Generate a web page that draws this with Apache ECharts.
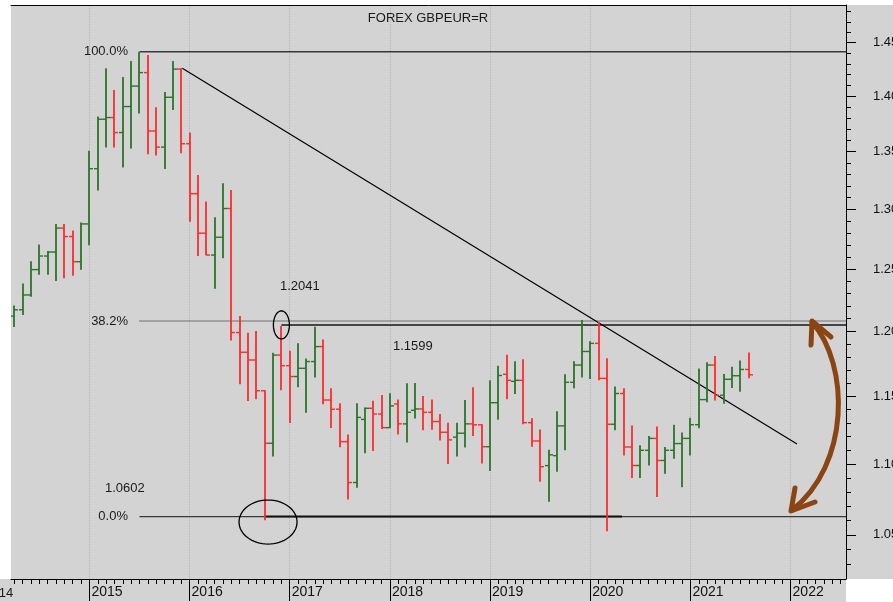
<!DOCTYPE html>
<html>
<head>
<meta charset="utf-8">
<title>FOREX GBPEUR=R</title>
<script src="https://cdn.jsdelivr.net/npm/echarts@6/dist/echarts.min.js"></script>
<style>
    html, body { margin: 0; padding: 0; background: #fff; }
    #chart { width: 893px; height: 602px; }
</style>
</head>
<body>
<div id="chart"></div>
<script>
    // monthly bars, Apr 2014 .. Aug 2021
    var months = [
        '2014-04','2014-05','2014-06','2014-07','2014-08','2014-09','2014-10','2014-11','2014-12',
        '2015-01','2015-02','2015-03','2015-04','2015-05','2015-06','2015-07','2015-08','2015-09','2015-10','2015-11','2015-12',
        '2016-01','2016-02','2016-03','2016-04','2016-05','2016-06','2016-07','2016-08','2016-09','2016-10','2016-11','2016-12',
        '2017-01','2017-02','2017-03','2017-04','2017-05','2017-06','2017-07','2017-08','2017-09','2017-10','2017-11','2017-12',
        '2018-01','2018-02','2018-03','2018-04','2018-05','2018-06','2018-07','2018-08','2018-09','2018-10','2018-11','2018-12',
        '2019-01','2019-02','2019-03','2019-04','2019-05','2019-06','2019-07','2019-08','2019-09','2019-10','2019-11','2019-12',
        '2020-01','2020-02','2020-03','2020-04','2020-05','2020-06','2020-07','2020-08','2020-09','2020-10','2020-11','2020-12',
        '2021-01','2021-02','2021-03','2021-04','2021-05','2021-06','2021-07','2021-08'
    ];
    var opens = [
        1.2120,1.2170,1.2289,1.2495,1.2607,1.2640,1.2840,1.2769,1.2560,
        1.2875,1.3350,1.3790,1.3805,1.3670,1.3905,1.4093,1.4218,1.3684,1.3540,1.3990,1.4251,
        1.3570,1.3133,1.2797,1.2615,1.2763,1.3006,1.1990,1.1836,1.1776,1.1541,1.1150,1.1814,
        1.1732,1.1649,1.1712,1.1764,1.1880,1.1471,1.1402,1.1162,1.0867,1.1326,1.1409,1.1366,
        1.1265,1.1441,1.1293,1.1394,1.1404,1.1379,1.1310,1.1231,1.1195,1.1224,1.1293,1.1286,
        1.1125,1.1451,1.1666,1.1612,1.1620,1.1302,1.1167,1.0988,1.1060,1.1278,1.1605,1.1737,
        1.1842,1.1905,1.1635,1.1290,1.1520,1.1123,1.0989,1.1099,1.1186,1.1025,1.1099,1.1148,
        1.1186,1.1287,1.1474,1.1737,1.1507,1.1628,1.1655,1.1703
    ];
    var highs = [
        1.2205,1.2382,1.2563,1.2703,1.2648,1.2875,1.2875,1.2820,1.2887,
        1.3508,1.3815,1.4259,1.4057,1.4178,1.4327,1.4414,1.4384,1.3899,1.4038,1.4327,1.4262,
        1.3670,1.3295,1.3066,1.2932,1.3224,1.3165,1.2121,1.1989,1.2003,1.1545,1.1833,1.2041,
        1.1847,1.1906,1.1787,1.2036,1.1936,1.1560,1.1447,1.1214,1.1447,1.1414,1.1466,1.1509,
        1.1522,1.1475,1.1597,1.1599,1.1501,1.1475,1.1366,1.1302,1.1302,1.1471,1.1568,1.1290,
        1.1620,1.1731,1.1817,1.1767,1.1781,1.1334,1.1252,1.1103,1.1386,1.1666,1.1767,1.2088,
        1.1922,1.2073,1.1790,1.1574,1.1560,1.1280,1.1136,1.1204,1.1274,1.1123,1.1287,1.1230,
        1.1338,1.1710,1.1758,1.1806,1.1669,1.1723,1.1772,1.1834
    ];
    var lows = [
        1.2034,1.2128,1.2274,1.2452,1.2452,1.2402,1.2424,1.2444,1.2493,
        1.2697,1.3160,1.3537,1.3537,1.3360,1.3527,1.3842,1.3476,1.3466,1.3347,1.3873,1.3485,
        1.2893,1.2607,1.2613,1.2340,1.2588,1.1927,1.1590,1.1463,1.1477,1.0602,1.1053,1.1545,
        1.1300,1.1567,1.1376,1.1641,1.1439,1.1262,1.1121,1.0747,1.0830,1.1078,1.1094,1.1255,
        1.1262,1.1214,1.1155,1.1333,1.1245,1.1250,1.1170,1.0999,1.1053,1.1120,1.1203,1.1004,
        1.0950,1.1323,1.1477,1.1517,1.1290,1.1125,1.0873,1.0731,1.0944,1.1100,1.1560,1.1641,
        1.1631,1.1620,1.0526,1.1245,1.1062,1.0899,1.0899,1.0989,1.0764,1.0929,1.1038,1.0834,
        1.1062,1.1261,1.1455,1.1468,1.1442,1.1561,1.1534,1.1635
    ];
    var closes = [
        1.2170,1.2289,1.2495,1.2607,1.2640,1.2840,1.2769,1.2560,1.2875,
        1.3350,1.3790,1.3805,1.3670,1.3905,1.4093,1.4218,1.3684,1.3540,1.3990,1.4251,1.3570,
        1.3133,1.2797,1.2615,1.2763,1.3006,1.1990,1.1836,1.1776,1.1541,1.1150,1.1814,1.1732,
        1.1649,1.1712,1.1764,1.1880,1.1471,1.1402,1.1162,1.0867,1.1341,1.1409,1.1366,1.1265,
        1.1427,1.1293,1.1379,1.1404,1.1379,1.1310,1.1231,1.1175,1.1224,1.1293,1.1286,1.1125,
        1.1451,1.1657,1.1620,1.1620,1.1302,1.1167,1.0980,1.1066,1.1278,1.1605,1.1737,1.1842,
        1.1905,1.1635,1.1290,1.1520,1.1123,1.0989,1.1099,1.1186,1.1025,1.1099,1.1148,1.1186,
        1.1287,1.1474,1.1737,1.1507,1.1628,1.1655,1.1703,1.1662
    ];

    // axes
    var years = [2015, 2016, 2017, 2018, 2019, 2020, 2021, 2022];
    var priceTicks = [1.05, 1.10, 1.15, 1.20, 1.25, 1.30, 1.35, 1.40, 1.45];
    var X_MIN = 2.607, X_MAX = 102.64;      // months since Jan 2014
    var Y_MIN = 1.02007, Y_MAX = 1.48625;   // log price scale

    // retracement levels and drawn lines
    var fibLabels = ['100.0%', '38.2%', '0.0%'];
    var fibValues = [1.4414, 1.2081, 1.0627];
    var fibFrom = '2015-07';
    var resistance = { from: '2016-12', value: 1.2050 };
    var support = { from: '2016-10', to: 75.8, value: 1.0627 };
    var trendLine = [[23.13, 1.4258], [96.77, 1.1145]];
    var notes = ['1.2041', '1.1599', '1.0602'];

    var FONT = '"Liberation Sans", Arial, sans-serif';
    var UP = '#2a752a', DOWN = '#ff2b2b';
    var GREY = '#d3d3d3';
    var LN = Math.log;

    function monthIndex(s) {
        var p = s.split('-');
        return (+p[0] - 2014) * 12 + (+p[1] - 1);
    }

    var yearTicks = years.map(function (y) { return (y - 2014) * 12; });
    var monthTicks = [];
    for (var m = 3; m <= 102; m++) monthTicks.push(m);
    var minorTicks = [];
    for (var k = 102; k <= 148; k++) minorTicks.push(LN(k / 100));

    var ohlc = months.map(function (s, i) {
        return [monthIndex(s), LN(opens[i]), LN(highs[i]), LN(lows[i]), LN(closes[i])];
    });

    function renderOhlc(params, api) {
        var m = api.value(0);
        var o = api.coord([m, api.value(1)]);
        var h = api.coord([m, api.value(2)]);
        var l = api.coord([m, api.value(3)]);
        var c = api.coord([m, api.value(4)]);
        var color = api.value(4) >= api.value(1) ? UP : DOWN;
        var x = Math.round(h[0]);
        return {
            type: 'group',
            children: [
                { type: 'line', shape: { x1: x, y1: h[1], x2: x, y2: l[1] }, style: { stroke: color, lineWidth: 1.8 } },
                { type: 'line', shape: { x1: x - 4, y1: o[1], x2: x, y2: o[1] }, style: { stroke: color, lineWidth: 1.4 } },
                { type: 'line', shape: { x1: x, y1: c[1], x2: x + 4, y2: c[1] }, style: { stroke: color, lineWidth: 1.4 } }
            ]
        };
    }

    function flatLine(name, x1, x2, v, style) {
        return {
            name: name, type: 'line', xAxisIndex: 0, yAxisIndex: 0,
            data: [[x1, LN(v)], [x2, LN(v)]],
            symbol: 'none', silent: true, lineStyle: style, z: 3
        };
    }

    var chart = echarts.init(document.getElementById('chart'));

    var series = [
        {
            // year grid lines, kept under the bars
            name: 'years', type: 'line', xAxisIndex: 0, yAxisIndex: 0, data: [], z: 1,
            markLine: {
                z: 1, silent: true, symbol: 'none', label: { show: false },
                lineStyle: { color: '#b4b4b4', width: 1, type: 'dotted' },
                data: yearTicks.map(function (t) { return { xAxis: t }; })
            }
        },
        {
            name: 'GBPEUR', type: 'custom', xAxisIndex: 0, yAxisIndex: 0,
            renderItem: renderOhlc, data: ohlc, clip: true, z: 4,
            encode: { x: 0, y: [1, 2, 3, 4] }
        }
    ];
    fibValues.forEach(function (v, i) {
        var style = i === 1
            ? { color: '#111', width: 1, type: [1, 1] }
            : { color: '#3a3a3a', width: 1.3 };
        series.push(flatLine(fibLabels[i], monthIndex(fibFrom), X_MAX, v, style));
    });
    series.push(flatLine('resistance', monthIndex(resistance.from), X_MAX, resistance.value,
        { color: '#444', width: 2 }));
    series.push(flatLine('support', monthIndex(support.from), support.to, support.value,
        { color: '#111', width: 2 }));
    series.push({
        name: 'trend', type: 'line', xAxisIndex: 0, yAxisIndex: 0,
        data: trendLine.map(function (p) { return [p[0], LN(p[1])]; }),
        symbol: 'none', silent: true, lineStyle: { color: '#000', width: 1.2 }, z: 3
    });

    var option = {
        animation: false,
        backgroundColor: '#fff',
        grid: {
            left: 11, right: 47, top: 5, bottom: 23, show: true, backgroundColor: GREY, borderWidth: 0,
            containLabel: false, outerBoundsMode: 'none'
        },
        xAxis: [
            {
                type: 'value', min: X_MIN, max: X_MAX, position: 'bottom',
                axisLine: { show: true, onZero: false, lineStyle: { color: '#000', width: 1 } },
                axisTick: { show: true, customValues: yearTicks, length: 22, lineStyle: { color: '#000', width: 1 } },
                axisLabel: {
                    show: true, customValues: yearTicks, align: 'left', margin: 6, padding: [0, 0, 0, 2],
                    fontSize: 14, color: '#111', fontFamily: FONT,
                    formatter: function (v) { return String(2014 + Math.round(v / 12)); }
                },
                splitLine: { show: false }
            },
            {
                type: 'value', min: X_MIN, max: X_MAX, position: 'bottom',
                axisLine: { show: false },
                axisTick: { show: true, customValues: monthTicks, length: 5, lineStyle: { color: '#000', width: 1 } },
                axisLabel: { show: false }, splitLine: { show: false }
            },
            {
                type: 'value', min: X_MIN, max: X_MAX, position: 'top',
                axisLine: { show: true, onZero: false, lineStyle: { color: '#000', width: 1 } },
                axisTick: { show: false }, axisLabel: { show: false }, splitLine: { show: false }
            }
        ],
        yAxis: [
            {
                type: 'value', min: LN(Y_MIN), max: LN(Y_MAX), position: 'right',
                axisLine: { show: true, onZero: false, lineStyle: { color: '#000', width: 1 } },
                axisTick: { show: true, customValues: priceTicks.map(LN), length: 10, lineStyle: { color: '#000', width: 1 } },
                axisLabel: {
                    show: true, customValues: priceTicks.map(LN), margin: 27,
                    fontSize: 13, color: '#111', fontFamily: FONT,
                    formatter: function (v) { return Math.exp(v).toFixed(2); }
                },
                splitLine: { show: false }
            },
            {
                type: 'value', min: LN(Y_MIN), max: LN(Y_MAX), position: 'right',
                axisLine: { show: false },
                axisTick: { show: true, customValues: minorTicks, length: 5, lineStyle: { color: '#000', width: 1 } },
                axisLabel: { show: false }, splitLine: { show: false }
            }
        ],
        series: series
    };

    chart.setOption(option);

    function px(m, v) {
        return chart.convertToPixel({ xAxisIndex: 0, yAxisIndex: 0 }, [m, LN(v)]);
    }
    function label(text, x, y, align) {
        return {
            type: 'text', x: x, y: y, z: 10, silent: true,
            style: {
                text: text, fill: '#1a1a1a', fontSize: 13, fontFamily: FONT,
                align: align, textAlign: align, verticalAlign: 'middle', textVerticalAlign: 'middle'
            }
        };
    }
    // ellipse outline as a closed polygon
    function ellipse(c, rx, ry) {
        var pts = [];
        for (var i = 0; i < 64; i++) {
            var a = i / 64 * Math.PI * 2;
            pts.push([c[0] + rx * Math.cos(a), c[1] + ry * Math.sin(a)]);
        }
        return { type: 'polygon', z: 10, silent: true, shape: { points: pts },
            style: { fill: 'none', stroke: '#000', lineWidth: 1.3 } };
    }

    var plotRight = 893 - 47, plotBottom = 602 - 23;
    var brown = { stroke: '#8b4513', lineWidth: 5, fill: 'none', lineCap: 'round', lineJoin: 'round' };
    var graphics = [
        { type: 'rect', z: -10, silent: true, shape: { x: plotRight, y: 5, width: 893 - plotRight, height: plotBottom - 5 }, style: { fill: GREY } },
        { type: 'rect', z: -10, silent: true, shape: { x: 0, y: plotBottom, width: plotRight, height: 602 - plotBottom }, style: { fill: GREY } },
        label('FOREX GBPEUR=R', 428, 18, 'center'),
        label(String(2014), px(0, 1.1)[0] - 5, 593, 'left'),
        label(notes[0], 280, 286, 'left'),
        label(notes[1], 393, 346, 'left'),
        label(notes[2], 105, 488, 'left'),
        ellipse(px(monthIndex(resistance.from), resistance.value), 8, 14),
        ellipse(px(33.4, 1.0589), 29, 22),
        { type: 'bezierCurve', z: 10, silent: true,
          shape: { x1: 812, y1: 322, cpx1: 850, cpy1: 365, cpx2: 850, cpy2: 465, x2: 792, y2: 510 }, style: brown },
        { type: 'polyline', z: 10, silent: true, shape: { points: [[811, 345], [812, 321], [831, 337]] }, style: brown },
        { type: 'polyline', z: 10, silent: true, shape: { points: [[795, 488], [791, 511], [815, 502]] }, style: brown }
    ];
    fibValues.forEach(function (v, i) {
        graphics.push(label(fibLabels[i], 128, px(0, v)[1], 'right'));
    });
    chart.setOption({ graphic: graphics });

    window.addEventListener('resize', function () {
        chart.resize();
    });
</script>
</body>
</html>
